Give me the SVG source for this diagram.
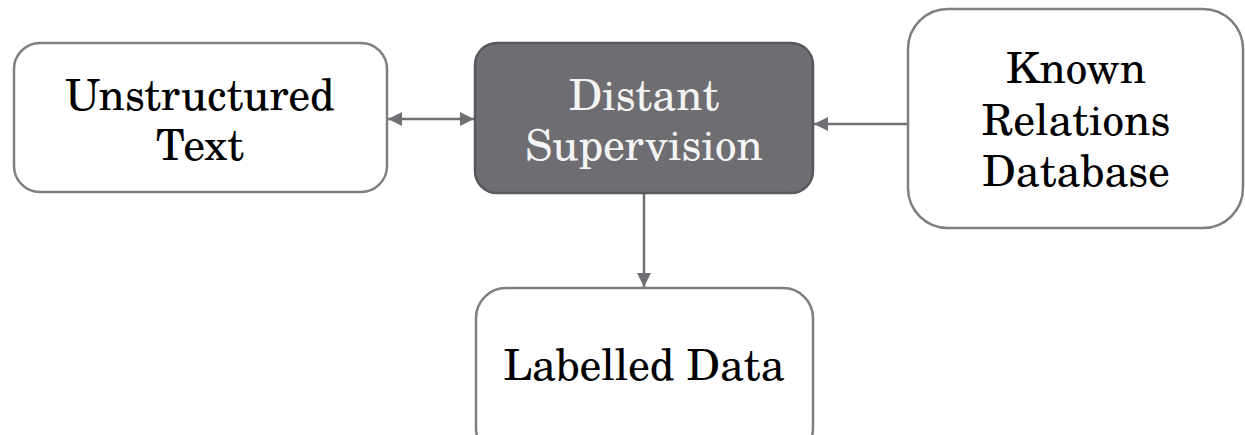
<svg xmlns="http://www.w3.org/2000/svg" width="1245" height="435" viewBox="0 0 1245 435">
  <style>
    .box { fill: #ffffff; stroke: #7f7f7f; stroke-width: 2.5; }
    .dark { fill: #6e6d72; stroke: #58575c; stroke-width: 2.5; }
    .label { font-family: "TeX Gyre Schola", "Liberation Serif", serif; font-size: 43px; text-anchor: middle; fill: #000000; }
    .light { fill: #f4f4f4; }
    .link { stroke: #707074; stroke-width: 2.5; fill: none; }
  </style>
  <defs>
    <marker id="arrow" viewBox="0 0 10 10" refX="10" refY="5" markerWidth="14" markerHeight="14" markerUnits="userSpaceOnUse" orient="auto-start-reverse">
      <path d="M0,0 L10,5 L0,10 Z" fill="#707074"/>
    </marker>
  </defs>
  <rect width="1245" height="435" fill="#ffffff"/>

  <g id="connectors">
    <line class="link" x1="388" y1="119" x2="474" y2="119" marker-start="url(#arrow)" marker-end="url(#arrow)"/>
    <line class="link" x1="908" y1="124" x2="814" y2="124" marker-end="url(#arrow)"/>
    <line class="link" x1="644" y1="193" x2="644" y2="287" marker-end="url(#arrow)"/>
  </g>

  <g id="unstructured-text">
    <rect class="box" x="14" y="43" width="373" height="149" rx="26"/>
    <text class="label" x="200" y="110">Unstructured</text>
    <text class="label" x="200" y="160">Text</text>
  </g>

  <g id="distant-supervision">
    <rect class="dark" x="475" y="43" width="338" height="150" rx="22"/>
    <text class="label light" x="644" y="110">Distant</text>
    <text class="label light" x="644" y="160">Supervision</text>
  </g>

  <g id="known-relations-database">
    <rect class="box" x="908" y="9" width="335" height="219" rx="40"/>
    <text class="label" x="1076" y="83">Known</text>
    <text class="label" x="1076" y="135">Relations</text>
    <text class="label" x="1076" y="186">Database</text>
  </g>

  <g id="labelled-data">
    <rect class="box" x="476" y="288" width="337" height="170" rx="30"/>
    <text class="label" x="644" y="380">Labelled Data</text>
  </g>
</svg>
